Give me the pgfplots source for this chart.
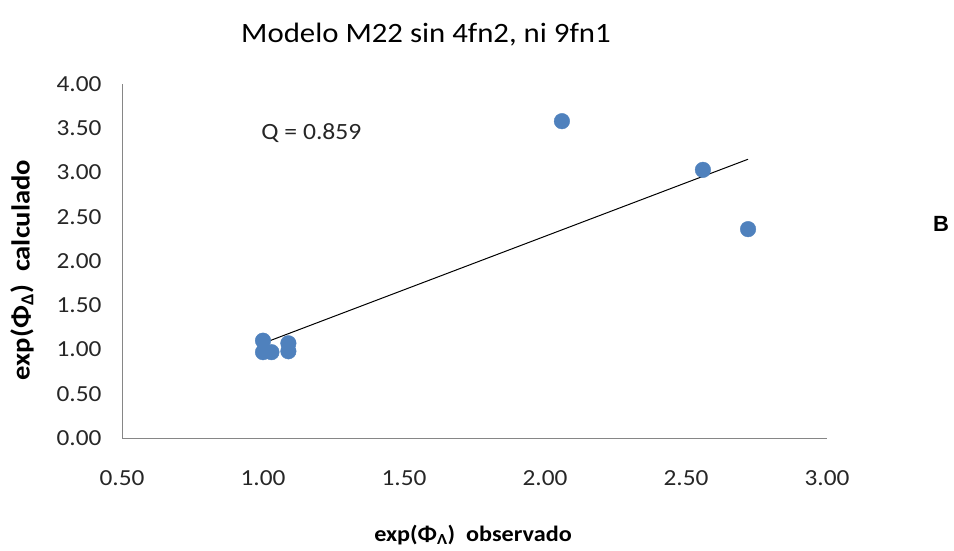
\documentclass[border=0pt]{standalone}
\usepackage{pgfplots}
\pgfplotsset{compat=1.18}
\usepackage{fontspec}
\setmainfont[FakeStretch=1.1]{Carlito}
\newfontfamily\arialfont{Liberation Sans}
\definecolor{ptblue}{HTML}{4F81BD}
\definecolor{axgray}{HTML}{868686}
\begin{document}
\begin{tikzpicture}
\useasboundingbox (0,0) rectangle (954bp,-551bp);
\begin{axis}[
  at={(122bp,-438bp)}, anchor=south west,
  width=705bp, height=354bp, scale only axis=true,
  xmin=0.5, xmax=3.0, ymin=0, ymax=4,
  xtick={0.5,1,1.5,2,2.5,3},
  ytick={0,0.5,1,1.5,2,2.5,3,3.5,4},
  axis x line=bottom, axis y line=left,
  axis line style={draw=axgray, line width=1bp, -},
  major tick length=0pt,
  tick style={draw=none},
  /pgf/number format/.cd, fixed, fixed zerofill, precision=2, assume math mode=true,
  /pgfplots/.cd,
  ticklabel style={font=\fontsize{23bp}{27bp}\selectfont, text=black!85},
  yticklabel style={xshift=-17bp},
  xticklabel style={yshift=-29bp},
  clip=false,
]
\addplot[only marks, mark=*, mark size=7.8bp, mark options={fill=ptblue, draw=ptblue}]
coordinates {
(1.00,1.10) (1.00,0.97) (1.03,0.97) (1.09,1.07) (1.09,0.98)
(2.06,3.58) (2.56,3.03) (2.72,2.36)
};
\addplot[black, line width=1bp] coordinates {(1.00,1.07) (2.72,3.15)};
\node[anchor=west, font=\fontsize{23.3bp}{27bp}\selectfont, text=black!85] at (axis cs:0.982,3.45) {Q = 0.859};
\end{axis}
\node[font=\fontsize{28bp}{33bp}\selectfont] at (426bp,-35bp) {Modelo M22 sin 4fn2, ni 9fn1};
\node[font=\fontsize{26bp}{30bp}\selectfont\bfseries, rotate=90] at (22bp,-270bp) {exp(Φ\textsubscript{Δ})\ \ calculado};
\node[font=\fontsize{22bp}{26bp}\selectfont\bfseries] at (473bp,-535bp) {exp(Φ\textsubscript{Λ})\ \ observado};
\node[font=\arialfont\fontsize{22bp}{26bp}\selectfont\bfseries] at (941bp,-224bp) {B};
\end{tikzpicture}
\end{document}
